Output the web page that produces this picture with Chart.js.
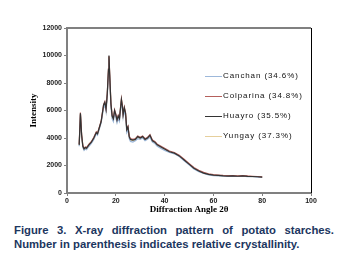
<!DOCTYPE html>
<html>
<head>
<meta charset="utf-8">
<script src="https://cdn.jsdelivr.net/npm/chart.js@4"></script>
<style>
  body { margin: 0; background: #fff; width: 341px; height: 255px; overflow: hidden; }
  #wrap { position: relative; width: 341px; height: 215px; }
  .caption {
    position: absolute; left: 14px; width: 320px;
    font-family: "Liberation Sans", Arial, sans-serif; font-weight: bold;
    font-size: 11.3px; line-height: 14px; color: #1c3660; white-space: nowrap;
  }
  .l1 { top: 223px; text-align: justify; text-align-last: justify; }
  .l2 { top: 237px; }
</style>
</head>
<body>
<div id="wrap"><canvas id="myChart" width="341" height="215"></canvas></div>
<div class="caption l1">Figure 3. X-ray diffraction pattern of potato starches.</div>
<div class="caption l2">Number in parenthesis indicates relative crystallinity.</div>
<script>
const angles = [5, 5.5, 6, 6.5, 7, 7.5, 8, 9, 10, 11, 12, 12.5, 13, 14, 15, 15.5, 16, 16.5, 17, 17.2, 17.5, 18, 18.5, 19, 19.5, 20, 20.5, 21, 21.5, 22, 22.3, 22.7, 23, 23.5, 24, 24.5, 25, 25.5, 26, 27, 28, 29, 30, 31, 32, 33, 34, 35, 36, 37, 38, 40, 42, 44, 46, 48, 50, 52, 54, 56, 58, 60, 62, 64, 66, 68, 70, 72, 74, 76, 78, 80]

const huayro = [3500, 5800, 4200, 3400, 3200, 3300, 3250, 3500, 3700, 4000, 4400, 4300, 4600, 5200, 6400, 6600, 6100, 7200, 9000, 10000, 8600, 6500, 5600, 5400, 6000, 5700, 5300, 5600, 5400, 6300, 6800, 6300, 5700, 6200, 5800, 4600, 4800, 4100, 3900, 3850, 3900, 4100, 4000, 4100, 3900, 4000, 4200, 3800, 3700, 3500, 3400, 3200, 3000, 2900, 2700, 2400, 2100, 1800, 1600, 1450, 1350, 1300, 1280, 1250, 1230, 1240, 1220, 1250, 1210, 1200, 1180, 1150]
const canchan = [3400, 5700, 4100, 3300, 3100, 3200, 3150, 3400, 3600, 3900, 4300, 4200, 4500, 5100, 6200, 6400, 5900, 7000, 8800, 9800, 8400, 6300, 5400, 5200, 5800, 5500, 5100, 5400, 5200, 6100, 6600, 6100, 5500, 6000, 5600, 4400, 4600, 3950, 3750, 3700, 3800, 3950, 3900, 4000, 3800, 3900, 4050, 3700, 3600, 3400, 3300, 3100, 2950, 2850, 2650, 2350, 2050, 1750, 1550, 1420, 1320, 1270, 1250, 1230, 1200, 1210, 1200, 1220, 1190, 1180, 1160, 1130]
const colparina = [3550, 5850, 4250, 3450, 3250, 3350, 3300, 3550, 3750, 4050, 4450, 4350, 4650, 5250, 6450, 6650, 6150, 7250, 9050, 9950, 8650, 6550, 5650, 5450, 6050, 5750, 5350, 5650, 5450, 6350, 6850, 6350, 5750, 6250, 5850, 4650, 4850, 4150, 3950, 3900, 3950, 4150, 4050, 4150, 3950, 4050, 4250, 3850, 3750, 3550, 3450, 3250, 3050, 2950, 2750, 2450, 2150, 1850, 1650, 1500, 1400, 1330, 1310, 1280, 1260, 1270, 1250, 1270, 1240, 1220, 1200, 1170]
const yungay = [3450, 5750, 4150, 3350, 3150, 3250, 3200, 3450, 3650, 3950, 4350, 4250, 4550, 5150, 6300, 6500, 6000, 7100, 8900, 9900, 8500, 6400, 5500, 5300, 5900, 5600, 5200, 5500, 5300, 6200, 6700, 6200, 5600, 6100, 5700, 4500, 4700, 4050, 3850, 3800, 3850, 4050, 3950, 4050, 3850, 3950, 4150, 3750, 3650, 3450, 3350, 3150, 2980, 2880, 2680, 2380, 2080, 1780, 1580, 1440, 1340, 1290, 1270, 1240, 1220, 1230, 1210, 1240, 1200, 1190, 1170, 1140]

const seriesNames = ['Canchan (34.6%)', 'Colparina (34.8%)', 'Huayro (35.5%)', 'Yungay (37.3%)']
const seriesColors = ['#9db8da', '#b5605c', '#333333', '#e6cf9c']
const seriesValues = [canchan, colparina, huayro, yungay]

const xTicks = [0, 20, 40, 60, 80, 100]

function toPoints(values) {
    return values.map((v, i) => ({ x: angles[i], y: v }))
}

// draw order: black on top
const drawOrder = [3, 0, 1, 2]

const datasets = seriesNames.map((name, i) => ({
    label: name,
    data: toPoints(seriesValues[i]),
    borderColor: seriesColors[i],
    borderWidth: 1.2,
    pointRadius: 0,
    tension: 0,
    order: drawOrder.length - drawOrder.indexOf(i),
}))

const frame = {
    id: 'frame',
    afterDraw(chart) {
        const { ctx, chartArea: a } = chart
        ctx.save()
        ctx.lineWidth = 2
        ctx.strokeStyle = '#808080'
        ctx.beginPath()
        ctx.moveTo(a.left, a.top)
        ctx.lineTo(a.right, a.top)
        ctx.stroke()
        ctx.lineWidth = 1
        ctx.strokeStyle = '#000'
        ctx.beginPath()
        ctx.moveTo(a.right + 0.5, a.top)
        ctx.lineTo(a.right + 0.5, a.bottom)
        ctx.stroke()

        // legend inside plot
        ctx.font = '8px "Liberation Sans", Arial, sans-serif'
        ctx.letterSpacing = '0.9px'
        ctx.textBaseline = 'middle'
        ctx.fillStyle = '#111'
        seriesNames.forEach((name, i) => {
            const y = 76 + i * 20
            ctx.strokeStyle = seriesColors[i]
            ctx.lineWidth = 1
            ctx.beginPath()
            ctx.moveTo(205, y + 0.5)
            ctx.lineTo(222, y + 0.5)
            ctx.stroke()
            ctx.fillText(name, 223, y)
        })
        ctx.restore()
    },
}

new Chart(document.getElementById('myChart'), {
    type: 'line',
    data: { datasets: datasets },
    options: {
        responsive: false,
        animation: false,
        layout: { padding: { left: 28, right: 30, top: 28, bottom: 0 } },
        plugins: { legend: { display: false }, tooltip: { enabled: false } },
        scales: {
            x: {
                type: 'linear',
                min: 0,
                max: 100,
                afterBuildTicks: (s) => { s.ticks = xTicks.map((v) => ({ value: v })) },
                afterFit: (s) => { s.height = 22 },
                border: { color: '#808080', width: 2 },
                grid: { drawOnChartArea: false, color: '#808080', tickLength: 3 },
                ticks: {
                    color: '#222',
                    padding: 1,
                    maxRotation: 0,
                    font: { family: '"Liberation Sans", Arial, sans-serif', size: 7, weight: 'bold' },
                },
                title: {
                    display: true,
                    text: 'Diffraction Angle 2θ',
                    color: '#000',
                    padding: 0,
                    font: { family: '"Liberation Serif", "Times New Roman", serif', size: 9, weight: 'bold' },
                },
            },
            y: {
                min: 0,
                max: 12000,
                afterFit: (s) => { s.width = 39 },
                border: { color: '#808080', width: 2 },
                grid: { drawOnChartArea: false, color: '#808080', tickLength: 3 },
                ticks: {
                    stepSize: 2000,
                    color: '#222',
                    padding: 2,
                    callback: (v) => String(v),
                    font: { family: '"Liberation Sans", Arial, sans-serif', size: 7, weight: 'bold' },
                },
                title: {
                    display: true,
                    text: 'Intensity',
                    color: '#000',
                    padding: { top: 0, bottom: 4 },
                    font: { family: '"Liberation Serif", "Times New Roman", serif', size: 9, weight: 'bold' },
                },
            },
        },
    },
    plugins: [frame],
})
</script>
</body>
</html>
